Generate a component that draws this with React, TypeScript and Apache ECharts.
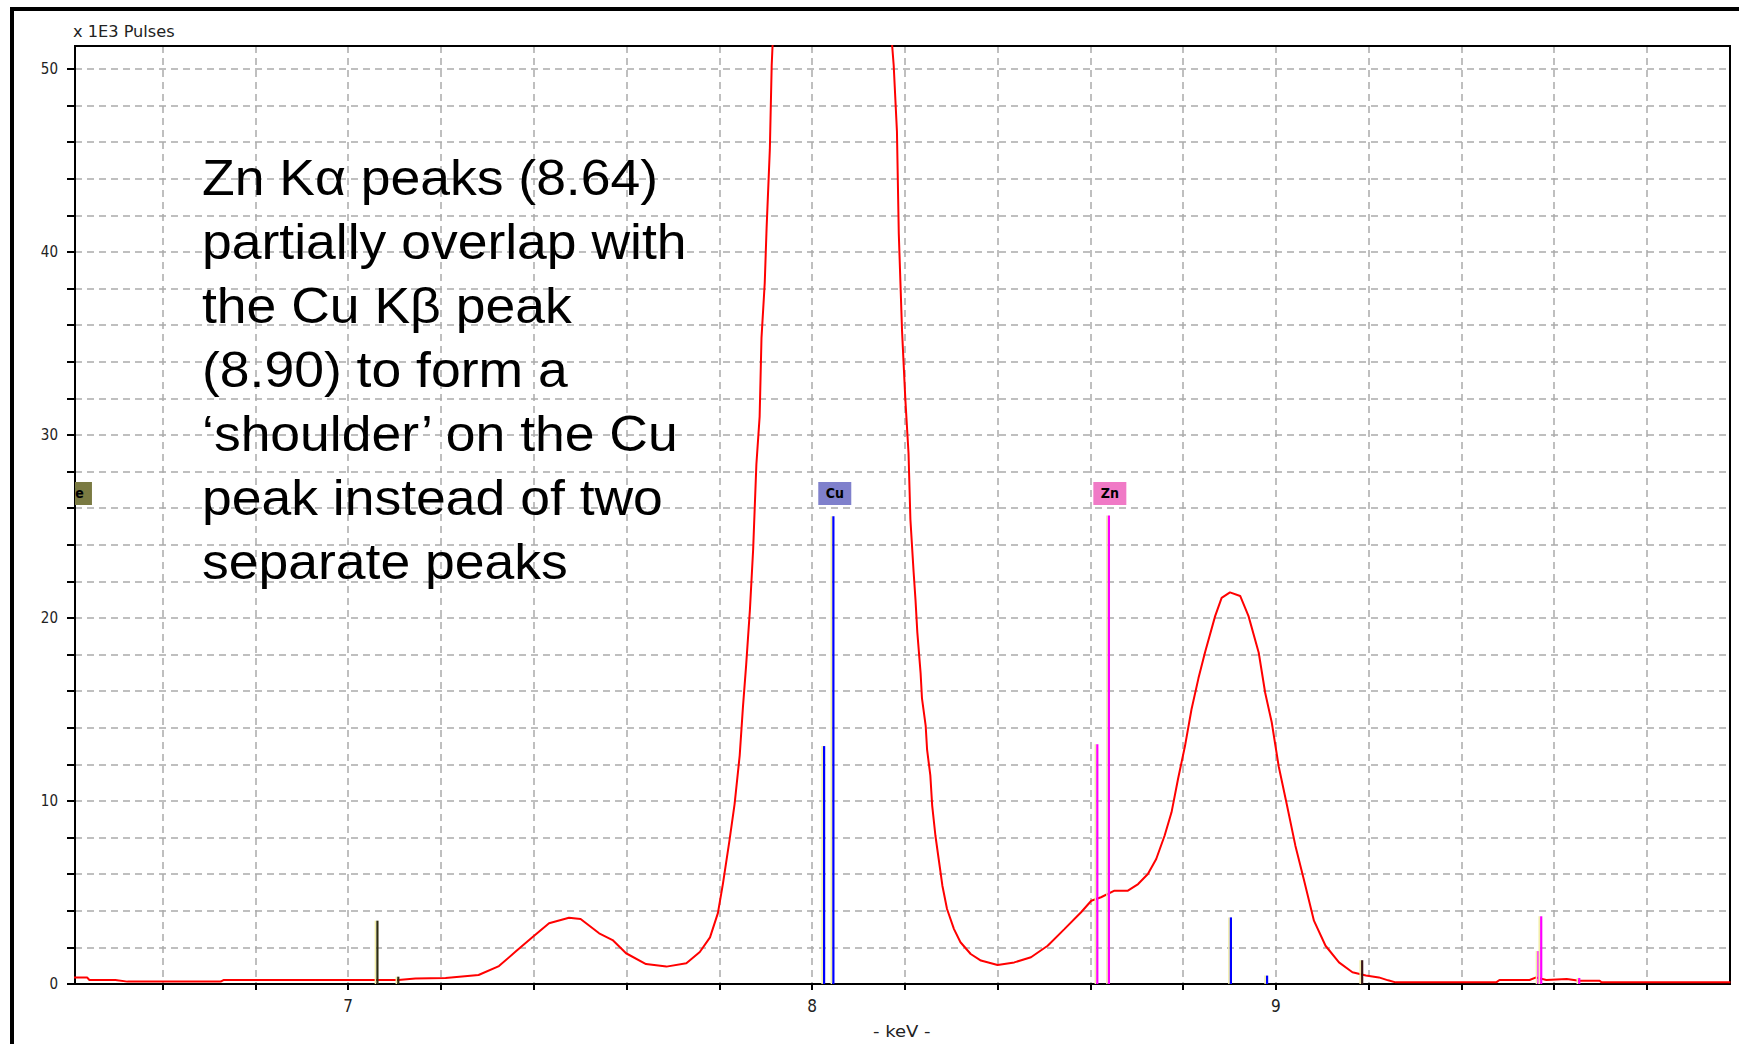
import React, { useEffect, useRef } from "react";
import * as echarts from "echarts";

// ---- Data ----
const spectrumKeV = [
  6.405, 6.437, 6.442, 6.498, 6.524, 6.725, 6.732, 7.108, 7.145, 7.21, 7.281, 7.325, 7.361, 7.397, 7.433,
  7.476, 7.501, 7.541, 7.57, 7.599, 7.642, 7.686, 7.729, 7.758, 7.78, 7.797, 7.808, 7.822, 7.833, 7.844,
  7.851, 7.858, 7.866, 7.873, 7.88, 7.887, 7.891, 7.898, 7.902, 7.909, 7.913, 7.93, 7.96, 8.0, 8.04,
  8.08, 8.12, 8.15, 8.172, 8.176, 8.183, 8.187, 8.194, 8.201, 8.208, 8.212, 8.219, 8.223, 8.227, 8.234,
  8.237, 8.245, 8.248, 8.255, 8.259, 8.266, 8.273, 8.281, 8.291, 8.306, 8.32, 8.342, 8.364, 8.4, 8.436,
  8.472, 8.508, 8.544, 8.58, 8.602, 8.623, 8.652, 8.681, 8.703, 8.724, 8.742, 8.76, 8.775, 8.789, 8.804,
  8.818, 8.833, 8.847, 8.869, 8.883, 8.901, 8.923, 8.941, 8.963, 8.977, 8.991, 9.006, 9.024, 9.042, 9.06,
  9.082, 9.107, 9.136, 9.165, 9.194, 9.222, 9.242, 9.258, 9.475, 9.482, 9.547, 9.561, 9.583, 9.627, 9.654,
  9.698, 9.702, 9.98,
];
const spectrumCounts = [
  0.36, 0.36, 0.22, 0.22, 0.13, 0.13, 0.22, 0.22, 0.3, 0.33, 0.49, 0.98, 1.77, 2.55, 3.32,
  3.62, 3.55, 2.77, 2.4, 1.68, 1.09, 0.95, 1.13, 1.75, 2.55, 3.87, 5.5, 7.85, 9.83, 12.48,
  15.13, 17.45, 20.43, 23.74, 28.4, 31.0, 35.3, 38.3, 41.3, 45.6, 50.2, 60, 80, 100, 110,
  100, 80, 62, 51.5, 50.2, 46.6, 41.0, 35.7, 32.0, 29.0, 25.4, 22.5, 21.0, 19.2, 17.0,
  15.6, 14.1, 12.8, 11.4, 9.75, 8.1, 6.83, 5.37, 4.1, 3.0, 2.28, 1.64, 1.28, 1.04, 1.18,
  1.46, 2.09, 3.0, 3.92, 4.55, 4.74, 5.1, 5.1, 5.46, 6.01, 6.83, 8.1, 9.38, 11.2, 13.0,
  15.0, 16.7, 18.1, 20.1, 21.1, 21.4, 21.2, 20.1, 18.1, 15.9, 14.3, 11.9, 9.75, 7.56, 5.74,
  3.46, 2.09, 1.18, 0.64, 0.46, 0.36, 0.2, 0.09, 0.09, 0.22, 0.22, 0.36, 0.22, 0.27, 0.18,
  0.18, 0.09, 0.09,
];

// KLM marker lines
const markerElement = ["Fe", "Fe", "Cu", "Cu", "Zn", "Zn", "Cu", "Cu", "X", "Zn", "Zn", "Zn"];
const markerKeV = [7.063, 7.108, 8.026, 8.046, 8.615, 8.64, 8.903, 8.981, 9.186, 9.566, 9.572, 9.654];
const markerHeight = [3.46, 0.4, 13.0, 25.56, 13.1, 25.6, 3.64, 0.46, 1.3, 1.8, 3.7, 0.33];

// element labels
const labelElement = ["Fe", "Cu", "Zn"];
const labelKeV = [6.412, 8.049, 8.642];
const labelLevel = [26.8, 26.8, 26.8];

const yTickLabels = [0, 10, 20, 30, 40, 50];
const xTickLabels = [7, 8, 9];

const annotation = [
  "Zn Kα peaks (8.64)",
  "partially overlap with",
  "the Cu Kβ peak",
  "(8.90) to form a",
  "‘shoulder’ on the Cu",
  "peak instead of two",
  "separate peaks",
];

// axis extents
const X_MIN = 6.411;
const X_MAX = 9.979;
const X_FIRST_GRID = 6.6;
const Y_MAX = 51.25;

const elementColor: Record<string, string> = { Fe: "#2e2e12", Cu: "#0000ff", Zn: "#ff00ff", X: "#3a1414" };
const labelColor: Record<string, string> = { Fe: "#7a7a42", Cu: "#7f80cc", Zn: "#f07ac6" };

const narrow = "'Liberation Sans Narrow', 'DejaVu Sans Condensed', 'DejaVu Sans', sans-serif";

export default function App() {
  const ref = useRef<HTMLDivElement>(null);
  useEffect(() => {
    if (!ref.current) return;
    const chart = echarts.init(ref.current, null, { renderer: "svg" });
    const spectrum = spectrumKeV.map((k, i) => [k, spectrumCounts[i]]);
    const markers = markerKeV.map((k, i) => [k, markerHeight[i], i]);
    const labels = labelKeV.map((k, i) => [k, labelLevel[i], i]);

    const gLeft = 75;
    const gTop = 46;
    const gW = 1655;
    const gH = 938;
    const pxPerKeV = gW / (X_MAX - X_MIN);
    const g2Left = gLeft + (X_FIRST_GRID - X_MIN) * pxPerKeV;
    const g2W = gLeft + gW - g2Left;

    const gridLine = { show: true, lineStyle: { color: "#ababab", type: [7, 5], width: 1.5 } };

    chart.setOption({
      animation: false,
      backgroundColor: "#ffffff",
      grid: [
        {
          left: gLeft,
          top: gTop,
          width: gW,
          height: gH,
          show: true,
          borderColor: "#000",
          borderWidth: 2,
          backgroundColor: "transparent",
          z: 1,
        },
        { left: g2Left, top: gTop, width: g2W, height: gH, show: false },
      ],
      xAxis: [
        {
          gridIndex: 0,
          type: "value",
          min: X_MIN,
          max: X_MAX,
          axisLine: { show: true, onZero: false, lineStyle: { color: "#000", width: 2 } },
          axisTick: { show: false },
          axisLabel: { show: false },
          splitLine: { show: false },
        },
        {
          gridIndex: 1,
          type: "value",
          min: X_FIRST_GRID,
          max: X_MAX,
          interval: 0.2,
          axisLine: { show: false, onZero: false },
          axisTick: { show: true, length: 6, lineStyle: { color: "#000", width: 2 } },
          axisLabel: {
            margin: 13,
            fontSize: 17,
            fontFamily: narrow,
            color: "#222",
            showMaxLabel: false,
            formatter: (v: number) => {
              const r = Math.round(v);
              return Math.abs(v - r) < 1e-6 && xTickLabels.includes(r) ? String(r) : "";
            },
          },
          splitLine: gridLine,
        },
      ],
      yAxis: [
        {
          gridIndex: 0,
          type: "value",
          min: 0,
          max: Y_MAX,
          interval: 2,
          axisLine: { show: true, lineStyle: { color: "#000", width: 2 } },
          axisTick: { show: true, length: 8, lineStyle: { color: "#000", width: 2 } },
          axisLabel: {
            margin: 17,
            fontSize: 15,
            fontFamily: narrow,
            color: "#222",
            showMaxLabel: false,
            formatter: (v: number) => {
              const r = Math.round(v);
              return Math.abs(v - r) < 1e-6 && yTickLabels.includes(r) ? String(r) : "";
            },
          },
          splitLine: gridLine,
        },
        {
          gridIndex: 1,
          type: "value",
          min: 0,
          max: Y_MAX,
          show: false,
          splitLine: { show: false },
        },
      ],
      series: [
        {
          type: "line",
          xAxisIndex: 0,
          yAxisIndex: 0,
          data: spectrum,
          showSymbol: false,
          clip: true,
          lineStyle: { color: "#ff0000", width: 2 },
          z: 3,
        },
        {
          type: "custom",
          xAxisIndex: 0,
          yAxisIndex: 0,
          clip: true,
          data: markers,
          encode: { x: 0, y: 1 },
          z: 4,
          renderItem: (_p: any, api: any) => {
            const x = api.value(0);
            const h = api.value(1);
            const idx = api.value(2);
            const c = elementColor[markerElement[idx]];
            const p0 = api.coord([x, 0]);
            const p1 = api.coord([x, h]);
            return {
              type: "group",
              children: [
                {
                  type: "line",
                  shape: { x1: p0[0] - 2, y1: p0[1], x2: p1[0] - 2, y2: p1[1] },
                  style: { stroke: "#f2eea6", lineWidth: 1.5 },
                },
                {
                  type: "line",
                  shape: { x1: p0[0], y1: p0[1], x2: p1[0], y2: p1[1] },
                  style: { stroke: c, lineWidth: 2.2 },
                },
              ],
            };
          },
        },
        {
          type: "custom",
          xAxisIndex: 0,
          yAxisIndex: 0,
          clip: true,
          data: labels,
          encode: { x: 0, y: 1 },
          z: 5,
          renderItem: (_p: any, api: any) => {
            const x = api.value(0);
            const lv = api.value(1);
            const idx = api.value(2);
            const el = labelElement[idx];
            const p = api.coord([x, lv]);
            return {
              type: "group",
              children: [
                {
                  type: "rect",
                  shape: { x: p[0] - 16.5, y: p[1] - 11.5, width: 33, height: 23 },
                  style: { fill: labelColor[el] },
                },
                {
                  type: "text",
                  x: p[0],
                  y: p[1],
                  style: {
                    text: el,
                    fill: "#000",
                    font: `bold 14px ${narrow}`,
                    align: "center",
                    verticalAlign: "middle",
                  },
                },
              ],
            };
          },
        },
      ],
      graphic: [
        { type: "rect", shape: { x: 10, y: 7, width: 1729, height: 4 }, style: { fill: "#000" }, z: 10 },
        { type: "rect", shape: { x: 10, y: 7, width: 4, height: 1037 }, style: { fill: "#000" }, z: 10 },
        {
          type: "text",
          x: 73,
          y: 25,
          scaleX: 1.2,
          style: { text: "x 1E3 Pulses", font: `15px ${narrow}`, fill: "#222" },
          z: 10,
        },
        {
          type: "text",
          x: 873,
          y: 1031,
          scaleX: 1.25,
          style: {
            text: "- keV -",
            font: `16px ${narrow}`,
            fill: "#222",
            align: "left",
            verticalAlign: "middle",
          },
          z: 10,
        },
        {
          type: "text",
          x: 202,
          y: 146,
          scaleX: 1.07,
          style: {
            text: annotation.join("\n"),
            font: "50px 'Liberation Sans', Arial, sans-serif",
            lineHeight: 64,
            fill: "#000",
            align: "left",
            verticalAlign: "top",
          },
          z: 10,
        },
      ],
    });
    return () => chart.dispose();
  }, []);
  return (
    <div
      ref={ref}
      style={{ position: "absolute", left: 0, top: 0, width: 1739, height: 1044 }}
    />
  );
}
